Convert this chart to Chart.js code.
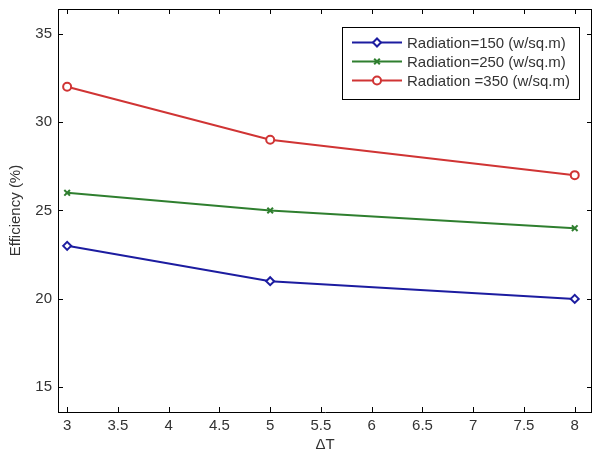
<!DOCTYPE html>
<html>
<head>
<meta charset="utf-8">
<script src="https://cdn.jsdelivr.net/npm/chart.js@4.4.0/dist/chart.umd.min.js"></script>
<style>
  html, body { margin: 0; padding: 0; background: #fff; }
</style>
</head>
<body>
<canvas id="chart" width="592" height="452"></canvas>
<script>
// Data
const deltaT = [3, 5, 8];
const rad150 = [23, 21, 20];
const rad250 = [26, 25, 24];
const rad350 = [32, 29, 27];
const seriesLabels = ['Radiation=150 (w/sq.m)', 'Radiation=250 (w/sq.m)', 'Radiation =350 (w/sq.m)'];
const xTicks = [3, 3.5, 4, 4.5, 5, 5.5, 6, 6.5, 7, 7.5, 8];
const yTicks = [15, 20, 25, 30, 35];

const FONT = 'Liberation Sans, Arial, sans-serif';
const TEXT = '#333';

function toPoints(ys) {
  return deltaT.map((x, i) => ({ x: x, y: ys[i] }));
}

// no label overhang padding, so the plot box sits where we put it
function noPad(s) {
  s.paddingTop = 0;
  s.paddingBottom = 0;
  s.paddingLeft = 0;
  s.paddingRight = 0;
}

// MATLAB-like box: top/right border, inward ticks, boxed legend
const matlabFrame = {
  id: 'matlabFrame',
  afterDatasetsDraw(chart) {
    const ctx = chart.ctx;
    const a = chart.chartArea;
    const xs = chart.scales.x, ys = chart.scales.y;
    const L = 5;
    ctx.save();
    ctx.strokeStyle = '#000';
    ctx.lineWidth = 1;
    ctx.beginPath();
    ctx.moveTo(a.left, a.top + 0.5);
    ctx.lineTo(a.right, a.top + 0.5);
    ctx.moveTo(a.right - 0.5, a.top);
    ctx.lineTo(a.right - 0.5, a.bottom);
    xTicks.forEach(v => {
      const px = Math.round(xs.getPixelForValue(v)) + 0.5;
      ctx.moveTo(px, a.bottom); ctx.lineTo(px, a.bottom - L);
      ctx.moveTo(px, a.top); ctx.lineTo(px, a.top + L);
    });
    yTicks.forEach(v => {
      const py = Math.round(ys.getPixelForValue(v)) + 0.5;
      ctx.moveTo(a.left, py); ctx.lineTo(a.left + L, py);
      ctx.moveTo(a.right, py); ctx.lineTo(a.right - L, py);
    });
    ctx.stroke();

    // legend
    const bx = 342.5, by = 27.5, bw = 237, bh = 72;
    ctx.fillStyle = '#fff';
    ctx.fillRect(bx, by, bw, bh);
    ctx.strokeRect(bx, by, bw, bh);
    ctx.font = '15px ' + FONT;
    ctx.textBaseline = 'middle';
    chart.data.datasets.forEach((ds, i) => {
      const cy = by + 15 + i * 19;
      ctx.strokeStyle = ds.borderColor;
      ctx.lineWidth = 2;
      ctx.beginPath();
      ctx.moveTo(352, cy);
      ctx.lineTo(402, cy);
      ctx.stroke();
      ctx.fillStyle = '#fff';
      Chart.helpers.drawPoint(ctx, {
        pointStyle: ds.pointStyle,
        radius: ds.pointRadius,
        borderWidth: ds.pointBorderWidth
      }, 377, cy);
      ctx.fillStyle = TEXT;
      ctx.fillText(ds.label, 407, cy + 1);
    });
    ctx.restore();
  }
};

function series(label, ys, color, style) {
  return {
    label: label,
    data: toPoints(ys),
    borderColor: color,
    backgroundColor: '#fff',
    borderWidth: 2,
    pointStyle: style,
    pointRadius: 4,
    pointBorderWidth: 2,
    pointBorderColor: color,
    pointBackgroundColor: '#fff',
    tension: 0
  };
}

new Chart(document.getElementById('chart'), {
  type: 'line',
  data: {
    datasets: [
      series(seriesLabels[0], rad150, '#1c1ca0', 'rectRot'),
      series(seriesLabels[1], rad250, '#2f7f2f', 'crossRot'),
      series(seriesLabels[2], rad350, '#d03434', 'circle')
    ]
  },
  options: {
    responsive: false,
    animation: false,
    layout: { autoPadding: false, padding: { top: 9, right: 0, left: 0, bottom: 0 } },
    plugins: {
      legend: { display: false },
      tooltip: { enabled: false }
    },
    scales: {
      x: {
        type: 'linear',
        min: 2.91,
        max: 8.17,
        afterFit: s => { s.height = 40; noPad(s); },
        afterBuildTicks: s => { s.ticks = xTicks.map(v => ({ value: v })); },
        grid: { display: false, drawTicks: false },
        border: { display: true, color: '#000', width: 1 },
        ticks: {
          padding: 5,
          color: TEXT,
          font: { family: FONT, size: 15 },
          callback: v => String(v)
        },
        title: {
          display: true,
          text: 'ΔT',
          color: TEXT,
          font: { family: FONT, size: 15 },
          padding: { top: 0, bottom: -2 }
        }
      },
      y: {
        min: 13.6,
        max: 36.4,
        afterFit: s => { s.width = 58; noPad(s); },
        afterBuildTicks: s => { s.ticks = yTicks.map(v => ({ value: v })); },
        grid: { display: false, drawTicks: false },
        border: { display: true, color: '#000', width: 1 },
        ticks: {
          padding: 6,
          color: TEXT,
          font: { family: FONT, size: 15 },
          callback: v => String(v)
        },
        title: {
          display: true,
          text: 'Efficiency (%)',
          color: TEXT,
          font: { family: FONT, size: 15 },
          padding: { top: 7, bottom: 0 }
        }
      }
    }
  },
  plugins: [matlabFrame]
});
</script>
</body>
</html>
